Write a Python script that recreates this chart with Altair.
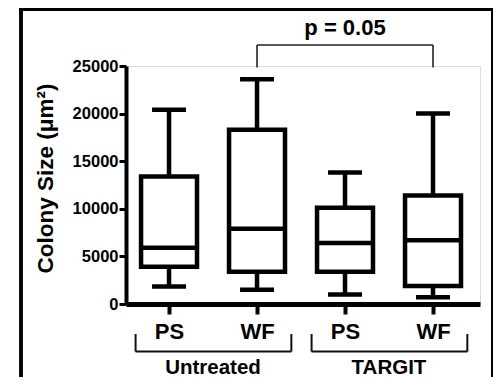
import altair as alt
import pandas as pd

# ---- data ----
positions = [1, 2, 3, 4]
categories = ["PS", "WF", "PS", "WF"]
groups = ["Untreated", "Untreated", "TARGIT", "TARGIT"]
whisker_low = [1850, 1500, 1000, 700]
q1 = [3900, 3400, 3400, 1900]
median = [5900, 7900, 6400, 6700]
q3 = [13400, 18300, 10100, 11400]
whisker_high = [20400, 23600, 13800, 20000]

group_names = ["Untreated", "TARGIT"]
group_start = [0.62, 2.62]
group_end = [2.39, 4.39]
group_center = [1.5, 3.5]

sig_from = [2]
sig_to = [4]
sig_label = ["p = 0.05"]

FONT = "Liberation Sans"
BOX_HALF = 0.318
CAP_HALF = 0.193
W, H = 354, 238

df = pd.DataFrame({
    "pos": positions, "cat": categories, "group": groups,
    "lo": whisker_low, "q1": q1, "med": median, "q3": q3, "hi": whisker_high,
})
df["bl"] = df["pos"] - BOX_HALF
df["br"] = df["pos"] + BOX_HALF
df["cl"] = df["pos"] - CAP_HALF
df["cr"] = df["pos"] + CAP_HALF

xscale = alt.Scale(domain=[0.511, 4.534], nice=False, zero=False)
yscale = alt.Scale(domain=[0, 25000], nice=False)

label_expr = "[" + ",".join(f"'{c}'" for c in categories) + "][datum.value - 1]"

xaxis = alt.Axis(values=positions, labelExpr=label_expr, title=None, grid=False,
                 domainWidth=5, domainColor="black", tickColor="black", tickWidth=4,
                 tickSize=10, labelFont=FONT, labelFontSize=22, labelFontWeight="bold",
                 labelColor="black", labelPadding=7)
yaxis = alt.Axis(values=[0, 5000, 10000, 15000, 20000, 25000], grid=False,
                 title="Colony Size (μm²)", titleFont=FONT, titleFontSize=22.5,
                 titleFontWeight="bold", titleColor="black", titleX=-81, titleY=112,
                 titleAngle=-90, titleAlign="center", titleBaseline="middle",
                 domainWidth=4, domainColor="black", tickColor="black", tickWidth=3,
                 tickSize=7, labelFont=FONT, labelFontSize=16.5, labelFontWeight="bold",
                 labelColor="black", labelPadding=1, format="d")

base = alt.Chart(df)

whisk_up = base.mark_rule(color="black", strokeWidth=4.5).encode(
    x=alt.X("pos:Q", scale=xscale, axis=xaxis),
    y=alt.Y("q3:Q", scale=yscale, axis=yaxis), y2="hi:Q")
whisk_dn = base.mark_rule(color="black", strokeWidth=4.5).encode(
    x="pos:Q", y="lo:Q", y2="q1:Q")
cap_hi = base.mark_rule(color="black", strokeWidth=4.5).encode(
    x="cl:Q", x2="cr:Q", y="hi:Q")
cap_lo = base.mark_rule(color="black", strokeWidth=4.5).encode(
    x="cl:Q", x2="cr:Q", y="lo:Q")
box = base.mark_rect(fill="white", stroke="black", strokeWidth=4.5).encode(
    x="bl:Q", x2="br:Q", y="q1:Q", y2="q3:Q")
med = base.mark_rule(color="black", strokeWidth=4.5).encode(
    x="bl:Q", x2="br:Q", y="med:Q")

# group brackets below the axis
gdf = pd.DataFrame({"name": group_names, "x0": group_start, "x1": group_end,
                    "xc": group_center, "ylow": [-5000] * 2, "yup": [-3150] * 2,
                    "ytxt": [-6750] * 2})
gb = alt.Chart(gdf)
g_h = gb.mark_rule(color="#111", strokeWidth=2).encode(x="x0:Q", x2="x1:Q", y="ylow:Q")
g_l = gb.mark_rule(color="#111", strokeWidth=2).encode(x="x0:Q", y="ylow:Q", y2="yup:Q")
g_r = gb.mark_rule(color="#111", strokeWidth=2).encode(x="x1:Q", y="ylow:Q", y2="yup:Q")
g_t = gb.mark_text(font=FONT, fontSize=20.5, fontWeight="bold", color="black",
                   baseline="middle", align="center").encode(
    x="xc:Q", y="ytxt:Q", text="name:N")

# significance bracket
sdf = pd.DataFrame({"x0": sig_from, "x1": sig_to, "label": sig_label,
                    "xc": [(a + b) / 2 for a, b in zip(sig_from, sig_to)],
                    "ytop": [27200], "yend": [24850], "ytxt": [28300]})
sb = alt.Chart(sdf)
s_h = sb.mark_rule(color="#222", strokeWidth=1.6).encode(x="x0:Q", x2="x1:Q", y="ytop:Q")
s_l = sb.mark_rule(color="#222", strokeWidth=1.6).encode(x="x0:Q", y="ytop:Q", y2="yend:Q")
s_r = sb.mark_rule(color="#222", strokeWidth=1.6).encode(x="x1:Q", y="ytop:Q", y2="yend:Q")
s_t = sb.mark_text(font=FONT, fontSize=22, fontWeight="bold", color="black",
                   baseline="alphabetic", align="center").encode(
    x="xc:Q", y="ytxt:Q", text="label:N")

# outer frame
frame_left = alt.Chart(df).mark_rule(color="black", strokeWidth=3).encode(
    x=alt.value(-105), y=alt.value(-57), y2=alt.value(320))
frame_top = alt.Chart(df).mark_rule(color="black", strokeWidth=3).encode(
    x=alt.value(-106.5), x2=alt.value(367), y=alt.value(-56.5))
frame_right = alt.Chart(df).mark_rule(color="black", strokeWidth=1.5).encode(
    x=alt.value(366), y=alt.value(-57), y2=alt.value(320))

chart = alt.layer(
    whisk_up, whisk_dn, cap_hi, cap_lo, box, med,
    g_h, g_l, g_r, g_t, s_h, s_l, s_r, s_t,
    frame_left, frame_top, frame_right,
).properties(
    width=W, height=H,
    autosize=alt.AutoSizeParams(type="none"),
    padding={"left": 118, "top": 58, "right": 13, "bottom": 73},
).configure_view(stroke=None).configure(background="white")

chart.save("out.html", embed_options={"renderer": "svg", "actions": False})
